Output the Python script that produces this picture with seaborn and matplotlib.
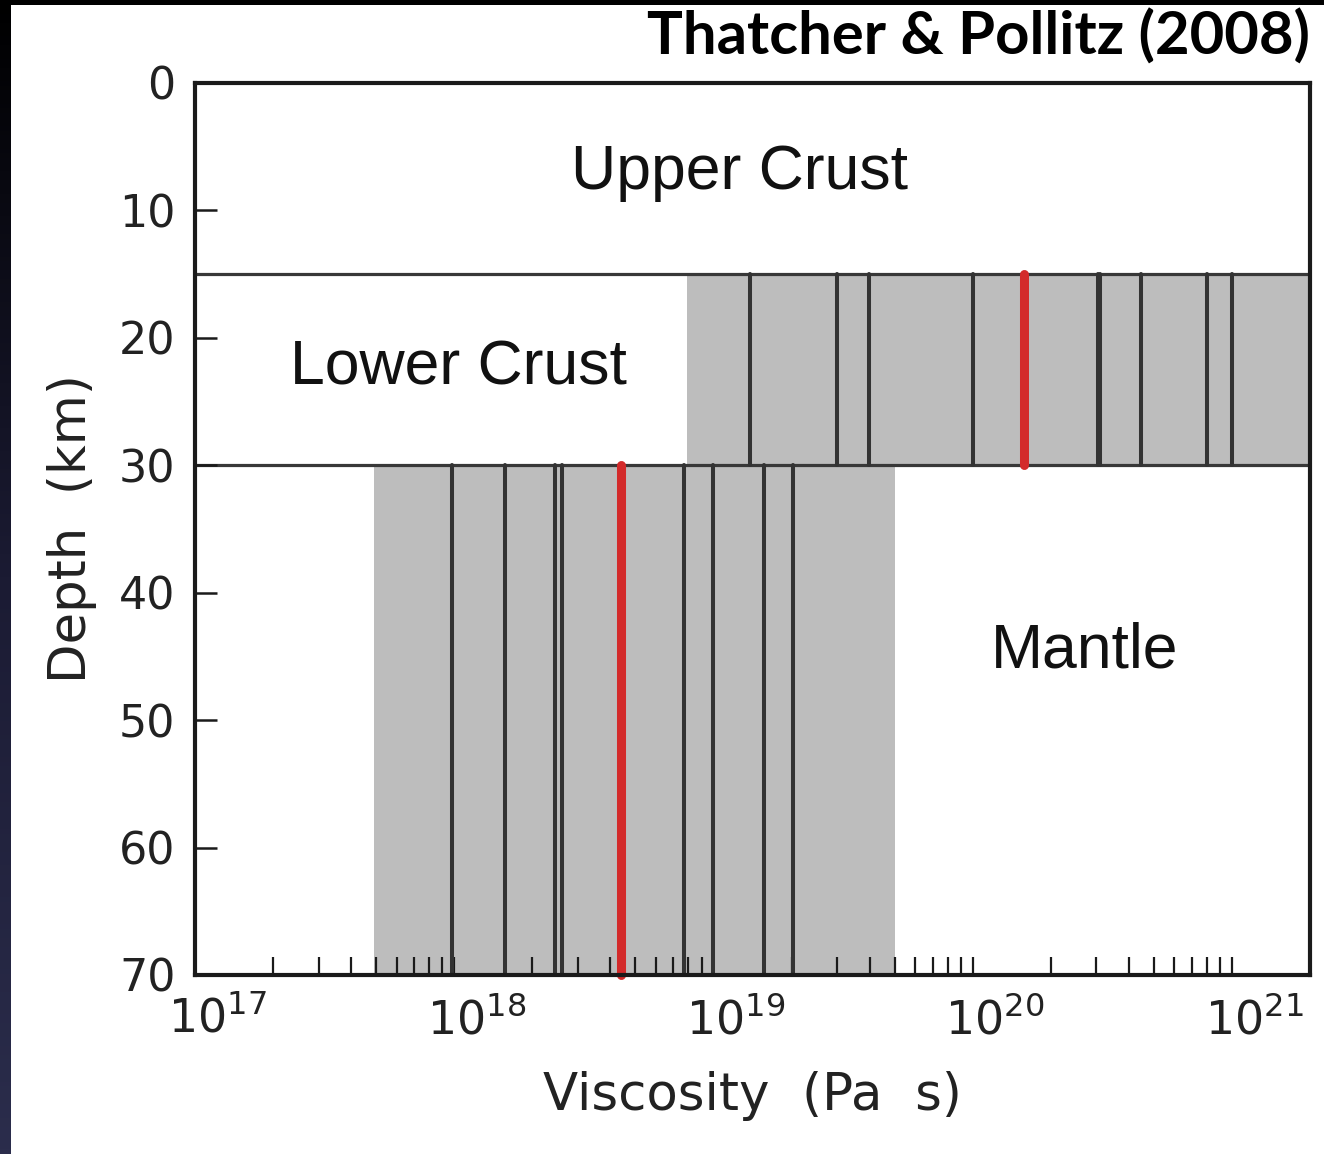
import numpy as np
import pandas as pd
import matplotlib
matplotlib.use("Agg")
import matplotlib.pyplot as plt
import matplotlib.transforms as mtransforms
from matplotlib.ticker import FixedLocator, NullFormatter
import seaborn as sns

# Layer boundaries (km)
layer_names = ["Upper Crust", "Lower Crust", "Mantle"]
layer_top = [0, 15, 30]
layer_bottom = [15, 30, 70]

# Range of viscosities spanned by published models for each ductile layer (Pa s)
lower_crust_range = [7.9e18, 2.0e21]
mantle_range = [4.9e17, 5.0e19]

# Individual model viscosities (Pa s)
lower_crust_models = [1.38e19, 3.0e19, 3.97e19, 1.0e20, 3.03e20, 3.1e20,
                      4.45e20, 8.0e20, 1.0e21]
mantle_models = [9.8e17, 1.57e18, 2.44e18, 2.61e18, 7.7e18, 1.0e19,
                 1.57e19, 2.03e19]

# Preferred viscosities (Pa s)
lower_crust_best = 1.57e20
mantle_best = 4.38e18

# Axis ticks
x_major = [1e17, 1e18, 1e19, 1e20, 1e21]
x_major_labels = [r"$10^{17}$", r"$10^{18}$", r"$10^{19}$", r"$10^{20}$", r"$10^{21}$"]
y_ticks = [0, 10, 20, 30, 40, 50, 60, 70]

sns.set_theme(style="white")
plt.rcParams["font.family"] = ["DejaVu Sans"]
plt.rcParams["mathtext.fontset"] = "custom"
plt.rcParams["mathtext.rm"] = "DejaVu Sans"
plt.rcParams["mathtext.it"] = "DejaVu Sans"

W, H, DPI = 1324, 1154, 100
fig = plt.figure(figsize=(W / DPI, H / DPI), dpi=DPI, facecolor="white")

# Dark slide frame along the top and left edges
band = fig.add_axes([0, 0, 11 / W, 1])
grad = np.linspace(0, 1, 256).reshape(-1, 1)
band.imshow(grad, aspect="auto", cmap=matplotlib.colors.LinearSegmentedColormap.from_list(
    "frame", ["#000000", "#1b1b33", "#2b2d4c"]), extent=[0, 1, 0, 1], origin="upper")
band.axis("off")
top = fig.add_axes([0, 1 - 5 / H, 1, 5 / H])
top.set_facecolor("black")
top.set_xticks([]); top.set_yticks([])
for s in top.spines.values():
    s.set_visible(False)

ax = fig.add_axes([195 / W, 1 - 975 / H, (1310 - 195) / W, (975 - 83) / H])
ax.set_facecolor("white")
ax.set_axisbelow(False)
ax.set_xscale("log")
ax.set_xlim(1e17, 2e21)
ax.set_ylim(70, 0)

grey = "#bdbdbd"
line_c = "#333333"

# Viscosity ranges for the lower crust and mantle
ax.fill_betweenx([layer_top[1], layer_bottom[1]], lower_crust_range[0], lower_crust_range[1],
                 color=grey, lw=0, zorder=1)
ax.fill_betweenx([layer_top[2], layer_bottom[2]], mantle_range[0], mantle_range[1],
                 color=grey, lw=0, zorder=1)

# Individual models as vertical segments spanning their layer
rows = []
for i, v in enumerate(lower_crust_models):
    rows += [dict(model=f"lc{i}", viscosity=v, depth=layer_top[1]),
             dict(model=f"lc{i}", viscosity=v, depth=layer_bottom[1])]
for i, v in enumerate(mantle_models):
    rows += [dict(model=f"m{i}", viscosity=v, depth=layer_top[2]),
             dict(model=f"m{i}", viscosity=v, depth=layer_bottom[2])]
models = pd.DataFrame(rows)
sns.lineplot(data=models, x="viscosity", y="depth", units="model", estimator=None,
             sort=False, color=line_c, lw=2.9, ax=ax, zorder=3)

best = pd.DataFrame([
    dict(model="lc", viscosity=lower_crust_best, depth=layer_top[1]),
    dict(model="lc", viscosity=lower_crust_best, depth=layer_bottom[1]),
    dict(model="m", viscosity=mantle_best, depth=layer_top[2]),
    dict(model="m", viscosity=mantle_best, depth=layer_bottom[2]),
])
sns.lineplot(data=best, x="viscosity", y="depth", units="model", estimator=None,
             sort=False, color="#d32a2a", lw=6.5, solid_capstyle="round",
             ax=ax, zorder=4, clip_on=False)

# Layer boundaries
for d in layer_bottom[:2]:
    ax.axhline(d, color="#383838", lw=2.3, zorder=2)

# Layer names
text_kw = dict(fontsize=45, family="Liberation Sans", color="#111111",
               ha="center", va="center", zorder=5)
ax.text(1.26e19, 7.0, layer_names[0], **text_kw)
ax.text(1.04e18, 22.4, layer_names[1], **text_kw)
ax.text(2.7e20, 44.6, layer_names[2], **text_kw)

# Axes styling
for s in ax.spines.values():
    s.set_color("#1a1a1a")
    s.set_linewidth(3)
    s.set_visible(True)
    s.set_zorder(6)

ax.xaxis.set_major_locator(FixedLocator(x_major))
minor = [m * 10.0 ** e for e in range(17, 21) for m in range(2, 10)]
ax.xaxis.set_minor_locator(FixedLocator(minor))
ax.xaxis.set_minor_formatter(NullFormatter())
ax.set_xticklabels(x_major_labels)
ax.set_yticks(y_ticks)
ax.set_yticklabels([str(t) for t in y_ticks])

ax.tick_params(axis="x", which="both", direction="in", length=13, width=1.6,
               color="#1a1a1a", bottom=True, top=False, pad=16,
               labelsize=33, labelcolor="#222222")
ax.tick_params(axis="y", which="major", direction="in", length=16, width=1.8,
               color="#1a1a1a", left=True, right=False, pad=14,
               labelsize=32, labelcolor="#222222")

offset = mtransforms.ScaledTranslation(0.22, 0, fig.dpi_scale_trans)
for lab in ax.get_xticklabels():
    lab.set_transform(lab.get_transform() + offset)

ax.set_xlabel("Viscosity  (Pa  s)", fontsize=37, color="#222222", labelpad=20)
ax.set_ylabel("Depth  (km)", fontsize=37, color="#222222", labelpad=16)

fig.text(1310 / W, 1 - 8 / H, "Thatcher & Pollitz (2008)", family="Lato",
         fontweight="bold", fontsize=43, ha="right", va="top", color="black")

fig.savefig("out.png", dpi=DPI, facecolor="white")
